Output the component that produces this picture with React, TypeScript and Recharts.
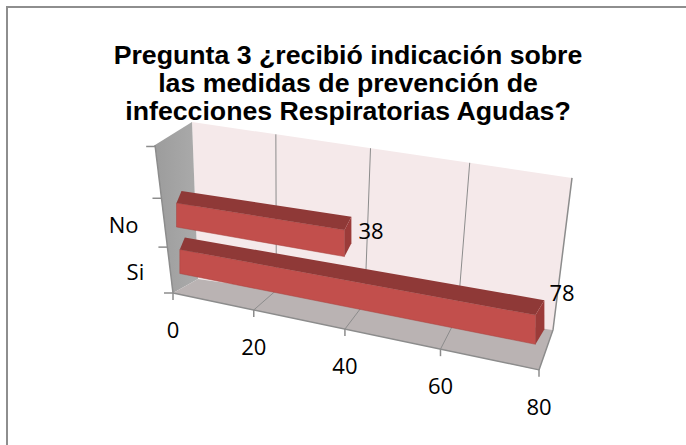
import React from 'react'
import { BarChart, Bar, XAxis, YAxis, ReferenceArea, LabelList } from 'recharts'

const categories = ['No', 'Si']
const answers = [38, 78]
const valueTicks = [0, 20, 40, 60, 80]
const titleLines = [
  'Pregunta 3 ¿recibió indicación sobre',
  'las medidas de prevención de',
  'infecciones Respiratorias Agudas?',
]

const rows = categories.map((c, i) => ({ cat: c, value: answers[i] }))

// flat plot box: bottom edge = front edge of the floor
const L = 173
const B = 293
const W = 366
const SLOPE = 0.21
const persp = (u: number) => Math.pow(Math.max(0, u), 1.09)

type P = [number, number]
const pts = (...p: P[]) => p.map((q) => q[0].toFixed(1) + ',' + q[1].toFixed(1)).join(' ')
const lerp = (a: P, b: P, t: number): P => [a[0] + (b[0] - a[0]) * t, a[1] + (b[1] - a[1]) * t]

// point on the front of a bar: u = share of the value axis, h = px above floor,
// hc = height of the bar centre (sets the horizontal scale of that bar)
const front = (u: number, h: number, hc: number): P => [
  L + 9 - 0.07 * hc + u * (372.4 - 0.24 * hc),
  B - h + u * (SLOPE * W - 0.22 * h),
]
const depth = (u: number): P => [5 + 4 * u, -12 - 3 * u]
const add = (a: P, b: P): P => [a[0] + b[0], a[1] + b[1]]

// box corners
const FL0: P = [L, B]
const FR0: P = [L + W, B + SLOPE * W]
const BL0: P = [L + 25, B - 14]
const BR0: P = [L + W + 14, B + SLOPE * W - 40]
const BLT: P = [L + 19, B - 171]
const BRT: P = [L + W + 33, B + SLOPE * W - 192]
const FLT: P = [L - 18, B - 148]

const font = '"Open Sans", sans-serif'

function Walls() {
  const inner = valueTicks.slice(1, -1)
  return (
    <g>
      <defs>
        <linearGradient id="side" x1="0" y1="0" x2="1" y2="0">
          <stop offset="0" stopColor="#9c9c9c" />
          <stop offset="1" stopColor="#ababab" />
        </linearGradient>
      </defs>
      <polygon points={pts(BL0, BLT, BRT, BR0)} fill="#f5e9ea" />
      <polygon points={pts(FL0, FLT, BLT, BL0)} fill="url(#side)" />
      <polygon points={pts(FL0, BL0, BR0, FR0)} fill="#bab3b3" />
      {inner.map((v) => {
        const p = persp(v / 80)
        const fb = lerp(FL0, FR0, p)
        const bb = lerp(BL0, BR0, p)
        const bt = lerp(BLT, BRT, p)
        return (
          <g key={v}>
            <line x1={bb[0]} y1={bb[1]} x2={bt[0]} y2={bt[1]} stroke="#8c8c8c" />
            <line x1={fb[0]} y1={fb[1]} x2={bb[0]} y2={bb[1]} stroke="#8c8c8c" />
          </g>
        )
      })}
      <polyline points={pts(FR0, BR0, BRT)} fill="none" stroke="#8c8c8c" strokeWidth={1.5} />
      <line x1={FL0[0]} y1={FL0[1]} x2={FR0[0]} y2={FR0[1]} stroke="#8c8c8c" strokeWidth={1.5} />
      <line x1={FL0[0]} y1={FL0[1]} x2={FLT[0]} y2={FLT[1]} stroke="#8c8c8c" strokeWidth={1.5} />
      {[0, 0.31, 0.64, 0.99].map((t) => {
        const q = lerp(FL0, FLT, t)
        return <line key={t} x1={q[0] - 9} y1={q[1]} x2={q[0]} y2={q[1]} stroke="#8c8c8c" strokeWidth={1.5} />
      })}
    </g>
  )
}

function Prism(props: any) {
  const { x, y, width, height } = props
  const u0 = (x - L) / W
  const u1 = (x + width - L) / W
  const hTop = B - y
  const hBot = B - (y + height)
  const hc = (hTop + hBot) / 2
  const ftl = front(u0, hTop, hc)
  const ftr = front(u1, hTop, hc)
  const fbr = front(u1, hBot, hc)
  const fbl = front(u0, hBot, hc)
  const btl = add(ftl, depth(u0))
  const btr = add(ftr, depth(u1))
  const bbr = add(fbr, depth(u1))
  return (
    <g>
      <polygon points={pts(ftl, ftr, fbr, fbl)} fill="#c24f4c" stroke="#a8423f" strokeWidth={0.5} />
      <polygon points={pts(ftl, btl, btr, ftr)} fill="#8f3937" />
      <polygon points={pts(ftr, btr, bbr, fbr)} fill="#9b3b39" />
    </g>
  )
}

function EndLabel(props: any) {
  const { x, y, width, height, value } = props
  const u1 = (x + width - L) / W
  const p = front(u1, B - y, B - y - height / 2)
  return (
    <text x={p[0] + 14} y={p[1] + 23 - 46 * u1 + 8} fontSize={22} fontFamily={font} fill="#000">
      {value}
    </text>
  )
}

function XTick(props: any) {
  const { x, payload } = props
  const p = persp((x - L) / W)
  const q = lerp(FL0, FR0, p)
  return (
    <g>
      <line x1={q[0]} y1={q[1]} x2={q[0]} y2={q[1] + 7} stroke="#8c8c8c" strokeWidth={1.5} />
      <text x={q[0]} y={q[1] + 45} textAnchor="middle" fontSize={22} fontFamily={font} fill="#000">
        {payload.value}
      </text>
    </g>
  )
}

function YTick(props: any) {
  const { y, payload } = props
  const h = B - y
  const sx = L - (18 * h) / 148
  return (
    <text x={sx - 25} y={y + 18} textAnchor="end" fontSize={22} fontFamily={font} fill="#000">
      {payload.value}
    </text>
  )
}

export default function App() {
  return (
    <div style={{ position: 'absolute', left: 0, top: 0, width: 686, height: 445, overflow: 'hidden', background: '#fff' }}>
      <div
        style={{
          position: 'absolute',
          left: 6,
          top: 6,
          width: 720,
          height: 480,
          borderLeft: '2px solid #8e8e8e',
          borderTop: '2px solid #8e8e8e',
        }}
      />
      <div
        style={{
          position: 'absolute',
          left: 0,
          top: 41,
          width: 696,
          textAlign: 'center',
          fontFamily: '"Liberation Sans", Arial, sans-serif',
          fontWeight: 'bold',
          fontSize: 26.7,
          lineHeight: '28px',
          color: '#000',
        }}
      >
        {titleLines.map((t) => (
          <div key={t}>{t}</div>
        ))}
      </div>
      <div style={{ position: 'absolute', left: 0, top: 0 }}>
        <BarChart
          layout="vertical"
          width={686}
          height={445}
          data={rows}
          margin={{ top: 140, right: 147, bottom: 122, left: 113 }}
        >
          <ReferenceArea x1={0} x2={80} ifOverflow="visible" shape={() => <Walls />} />
          <XAxis
            type="number"
            domain={[0, 80]}
            ticks={valueTicks}
            interval={0}
            height={30}
            axisLine={false}
            tickLine={false}
            tick={<XTick />}
          />
          <YAxis
            type="category"
            dataKey="cat"
            width={60}
            axisLine={false}
            tickLine={false}
            padding={{ top: 52, bottom: 8 }}
            tick={<YTick />}
          />
          <Bar dataKey="value" barSize={24} shape={<Prism />} isAnimationActive={false}>
            <LabelList dataKey="value" content={<EndLabel />} />
          </Bar>
        </BarChart>
      </div>
    </div>
  )
}
